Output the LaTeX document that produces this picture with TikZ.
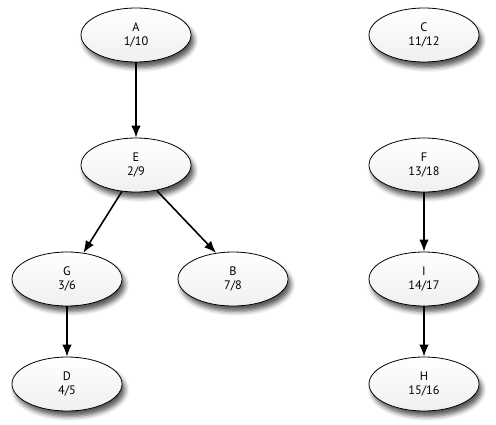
\documentclass[tikz,border=0pt]{standalone}
\usepackage{fontspec}
\setmainfont{PT Sans}
\usepackage{tikz}
\usetikzlibrary{arrows.meta,shapes.geometric,shadows.blur}
\tikzset{
  dfs node/.style={
    ellipse,
    draw=black,
    line width=0.9pt,
    top color=white,
    bottom color=gray!12,
    minimum width=4.4cm,
    minimum height=2.16cm,
    inner sep=0pt,
    align=center,
    font=\fontsize{14}{16}\selectfont,
    blur shadow={shadow xshift=0.12cm, shadow yshift=-0.22cm, shadow blur radius=0.18cm, shadow opacity=65}
  },
  tree edge/.style={
    -{Latex[length=0.48cm,width=0.38cm]},
    line width=1.8pt
  }
}
\begin{document}
\begin{tikzpicture}
  \useasboundingbox (0,0) rectangle (19.84,16.96);

  % First tree
  \node[dfs node] (A) at (5.44,15.56) {A\\1/10};
  \node[dfs node] (E) at (5.44,10.36) {E\\2/9};
  \node[dfs node] (G) at (2.68,5.8) {G\\3/6};
  \node[dfs node] (B) at (9.32,5.8) {B\\7/8};
  \node[dfs node] (D) at (2.68,1.6) {D\\4/5};

  % Second tree
  \node[dfs node] (C) at (16.96,15.56) {C\\11/12};

  % Third tree
  \node[dfs node] (F) at (16.96,10.36) {F\\13/18};
  \node[dfs node] (I) at (16.96,5.8) {I\\14/17};
  \node[dfs node] (H) at (16.96,1.6) {H\\15/16};

  % Tree edges
  \draw[tree edge] (A) -- (E);
  \draw[tree edge] (E.-118) -- (G.58);
  \draw[tree edge] (E.-51) -- (B.123);
  \draw[tree edge] (G) -- (D);
  \draw[tree edge] (F) -- (I);
  \draw[tree edge] (I) -- (H);
\end{tikzpicture}
\end{document}
